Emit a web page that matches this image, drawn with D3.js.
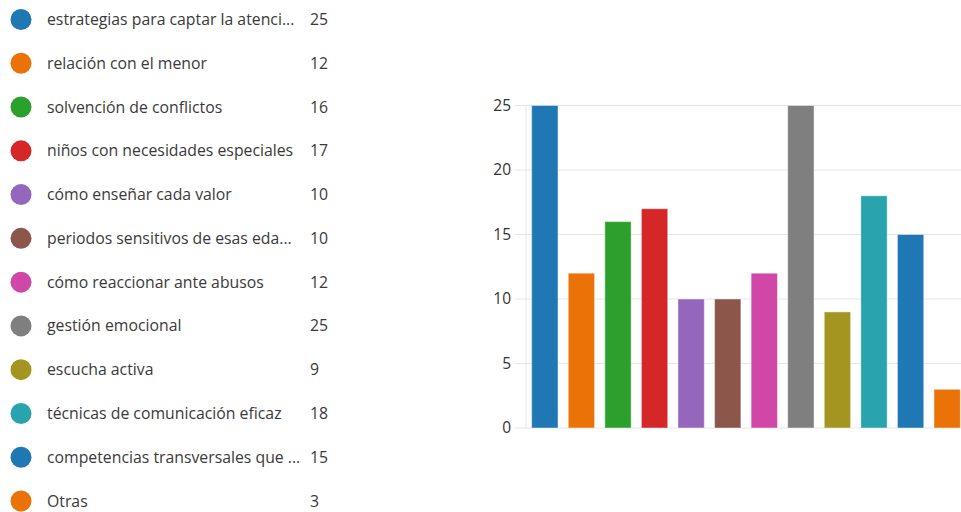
<!DOCTYPE html>
<html>
<head>
<meta charset="utf-8">
<script src="https://cdn.jsdelivr.net/npm/d3@7"></script>
<style>
  body { margin: 0; background: #fff; }
  text { font-family: "Open Sans", "Noto Sans", sans-serif; }
</style>
</head>
<body>
<div id="chart"></div>
<script>
// Data
const labels = [
    "estrategias para captar la atenci...",
    "relación con el menor",
    "solvención de conflictos",
    "niños con necesidades especiales",
    "cómo enseñar cada valor",
    "periodos sensitivos de esas eda...",
    "cómo reaccionar ante abusos",
    "gestión emocional",
    "escucha activa",
    "técnicas de comunicación eficaz",
    "competencias transversales que ...",
    "Otras"
];
const counts = [25, 12, 16, 17, 10, 10, 12, 25, 9, 18, 15, 3];
const colors = [
    "#1f77b4", "#eb7206", "#2ca02c", "#d62728", "#9467bd", "#8c564b",
    "#d147a7", "#7f7f7f", "#a3951f", "#29a3ae", "#1f77b4", "#eb7206"
];
const yTicks = [0, 5, 10, 15, 20, 25];

const width = 961;
const height = 512;

const svg = d3.select("#chart")
    .append("svg")
    .attr("width", width)
    .attr("height", height)
    .attr("viewBox", [0, 0, width, height]);

// Legend (left)
const legendY = d3.scalePoint()
    .domain(d3.range(labels.length))
    .range([19.5, 501]);

const legend = svg.append("g").attr("class", "legend");

const row = legend.selectAll("g")
    .data(labels)
    .join("g")
    .attr("transform", (d, i) => `translate(0,${legendY(i)})`);

row.append("circle")
    .attr("cx", 21)
    .attr("r", 10.5)
    .attr("fill", (d, i) => colors[i]);

row.append("text")
    .attr("x", 47)
    .attr("dy", "0.35em")
    .attr("font-size", 15.8)
    .attr("fill", "#3a3a3a")
    .text(d => d);

row.append("text")
    .attr("x", 310)
    .attr("dy", "0.35em")
    .attr("font-size", 15.8)
    .attr("fill", "#3a3a3a")
    .text((d, i) => counts[i]);

// Bar chart (right)
const x = d3.scaleBand()
    .domain(labels)
    .range([526, 966])
    .paddingInner(0.28)
    .paddingOuter(0.155);

const y = d3.scaleLinear()
    .domain([0, 25])
    .range([428, 105.5]);

// Grid lines
svg.append("g")
    .selectAll("line")
    .data(yTicks)
    .join("line")
    .attr("x1", 515)
    .attr("x2", width)
    .attr("y1", d => y(d))
    .attr("y2", d => y(d))
    .attr("stroke", "#e6e6e6")
    .attr("stroke-width", 1);

// Left axis line
svg.append("line")
    .attr("x1", 526)
    .attr("x2", 526)
    .attr("y1", y(25))
    .attr("y2", y(0))
    .attr("stroke", "#e6e6e6");

const yAxis = svg.append("g")
    .attr("transform", "translate(515,0)")
    .call(d3.axisLeft(y).tickValues(yTicks).tickSize(0).tickPadding(4));

yAxis.select(".domain").remove();
yAxis.selectAll(".tick text")
    .attr("font-size", 15.5)
    .attr("font-family", "\"Open Sans\", \"Noto Sans\", sans-serif")
    .attr("fill", "#333");

// Bars
svg.append("g")
    .selectAll("rect")
    .data(labels)
    .join("rect")
    .attr("x", d => x(d))
    .attr("width", x.bandwidth())
    .attr("y", (d, i) => y(counts[i]))
    .attr("height", (d, i) => y(0) - y(counts[i]))
    .attr("fill", (d, i) => colors[i])
    .attr("stroke", "rgba(255,255,255,0.45)")
    .attr("stroke-width", 1);
</script>
</body>
</html>
